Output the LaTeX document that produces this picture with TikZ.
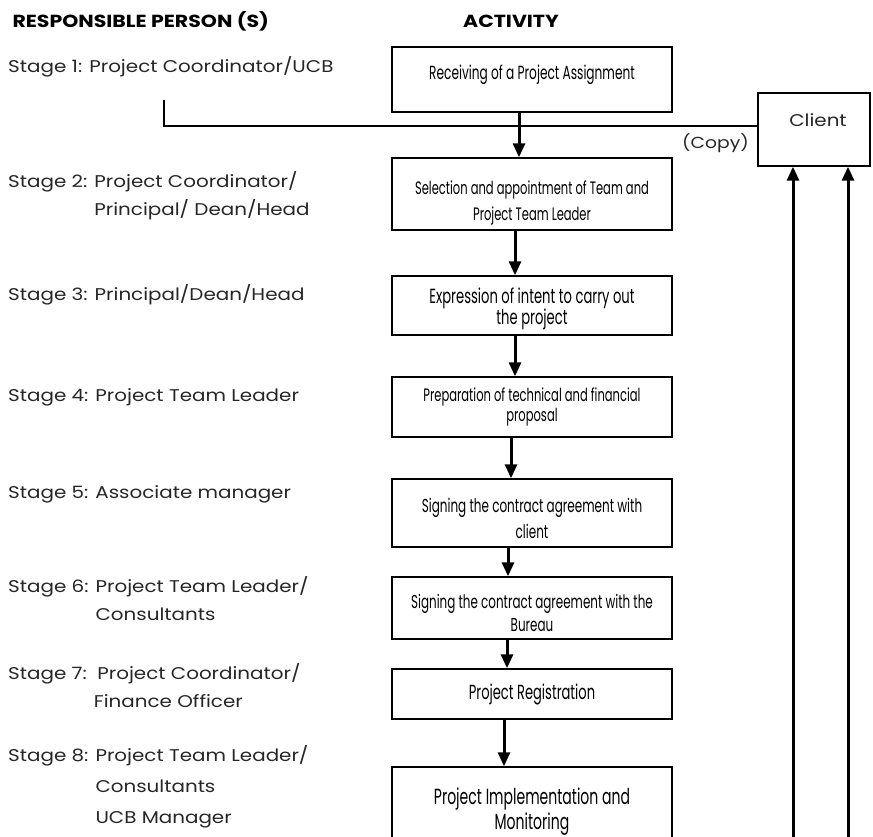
\documentclass[tikz,border=0pt]{standalone}
\usepackage{fontspec}
\setmainfont{Poppins}[FakeStretch=1.17]
\newfontfamily\narrowfont[FakeStretch=0.64]{Poppins}
\usetikzlibrary{arrows.meta}

\begin{document}
\begin{tikzpicture}[
        x=1pt, y=-1pt,
        every node/.style={font=\fontsize{17}{28}\selectfont, text=black!85},
        heading/.style={font=\bfseries\fontsize{17.5}{20}\selectfont, text=black},
        stage/.style={anchor=west, align=left, inner sep=0pt},
        activity/.style={draw, line width=1.4pt, minimum width=280pt, inner sep=0pt,
            align=center, text=black, font=\narrowfont\fontsize{19}{26}\selectfont},
        flow/.style={line width=3pt, -{Triangle[width=12pt,length=14pt]}},
        link/.style={line width=2pt}
    ]

    \useasboundingbox (0,0) rectangle (873,837);
    \clip (0,0) rectangle (873,837);

    % =====================================================
    % Column headings
    % =====================================================
    \node[heading, anchor=west] (hperson) at (9,21) {RESPONSIBLE PERSON (S)};
    \node[heading] (hactivity) at (511,21) {ACTIVITY};

    % =====================================================
    % Responsible persons
    % =====================================================
    \node[stage] (s1) at (8,67) {Stage 1: Project Coordinator/UCB};
    \node[stage] (s2) at (8,196) {Stage 2: Project Coordinator/\\
        \hphantom{Stage 2: }Principal/ Dean/Head};
    \node[stage] (s3) at (8,295) {Stage 3: Principal/Dean/Head};
    \node[stage] (s4) at (8,397) {Stage 4: Project Team Leader};
    \node[stage] (s5) at (8,494) {Stage 5: Associate manager};
    \node[stage] (s6) at (8,599) {Stage 6: Project Team Leader/\\
        \hphantom{Stage 6: }Consultants};
    \node[stage] (s7) at (8,686) {Stage 7:\ \ Project Coordinator/\\
        \hphantom{Stage 7: }Finance Officer};
    \node[stage] (s8) at (8,787) {Stage 8: Project Team Leader/\\[3pt]
        \hphantom{Stage 8: }Consultants\\[3pt]
        \hphantom{Stage 8: }UCB Manager};

    % =====================================================
    % Activities
    % =====================================================
    \node[activity, minimum height=65pt, text height=12pt, text depth=11pt]
        (a1) at (532,79.5) {Receiving of a Project Assignment};
    \node[activity, minimum height=72pt, font=\narrowfont\fontsize{18}{26}\selectfont]
        (a2) at (532,194) {\rule{0pt}{31pt}Selection and appointment of Team and\\
        Project Team Leader};
    \node[activity, minimum height=59pt, font=\narrowfont\fontsize{20.5}{21}\selectfont]
        (a3) at (532,305.5) {\rule{0pt}{23pt}Expression of intent to carry out\\ the project};
    \node[activity, minimum height=60pt, font=\narrowfont\fontsize{18}{20}\selectfont]
        (a4) at (532,407) {Preparation of technical and financial\\ proposal};
    \node[activity, minimum height=68pt, font=\narrowfont\fontsize{18.75}{26}\selectfont]
        (a5) at (532,513) {\rule{0pt}{26pt}Signing the contract agreement with\\ client};
    \node[activity, minimum height=62pt, font=\narrowfont\fontsize{18.65}{23}\selectfont]
        (a6) at (532,608) {\rule{0pt}{24pt}Signing the contract agreement with the\\ Bureau};
    \node[activity, minimum height=50pt, font=\narrowfont\fontsize{20.4}{26}\selectfont]
        (a7) at (532,694) {Project Registration};
    \node[activity, minimum height=90pt, font=\narrowfont\fontsize{21.9}{25}\selectfont]
        (a8) at (532,812) {Project Implementation and\\ Monitoring};

    \node[draw, line width=1.4pt, minimum width=112pt, minimum height=73pt,
        text height=10pt, text depth=15pt]
        (client) at (814,129.5) {\hspace{8pt}Client};
    \node[anchor=east, inner sep=0pt, font=\fontsize{16}{20}\selectfont]
        (copy) at (749,143) {(Copy)};

    % =====================================================
    % Copy line to the client
    % =====================================================
    \coordinate (tick) at (164,100);
    \draw[link] (tick) |- ([yshift=3.5pt]client.west);

    % =====================================================
    % Flow between activities
    % =====================================================
    \draw[flow] ([xshift=-13pt]a1.south) -- ([xshift=-13pt]a2.north);
    \draw[flow] ([xshift=-17pt]a2.south) -- ([xshift=-17pt]a3.north);
    \draw[flow] ([xshift=-17pt]a3.south) -- ([xshift=-17pt]a4.north);
    \draw[flow] ([xshift=-21pt]a4.south) -- ([xshift=-21pt]a5.north);
    \draw[flow] ([xshift=-24pt]a5.south) -- ([xshift=-24pt]a6.north);
    \draw[flow] ([xshift=-25pt]a6.south) -- ([xshift=-25pt]a7.north);
    \draw[flow] ([xshift=-28pt]a7.south) -- ([xshift=-28pt]a8.north);

    % Reports back to the client
    \coordinate (back1) at (793,837);
    \coordinate (back2) at (848,837);
    \draw[flow] (back1) -- (back1 |- client.south);
    \draw[flow] (back2) -- (back2 |- client.south);

\end{tikzpicture}
\end{document}
